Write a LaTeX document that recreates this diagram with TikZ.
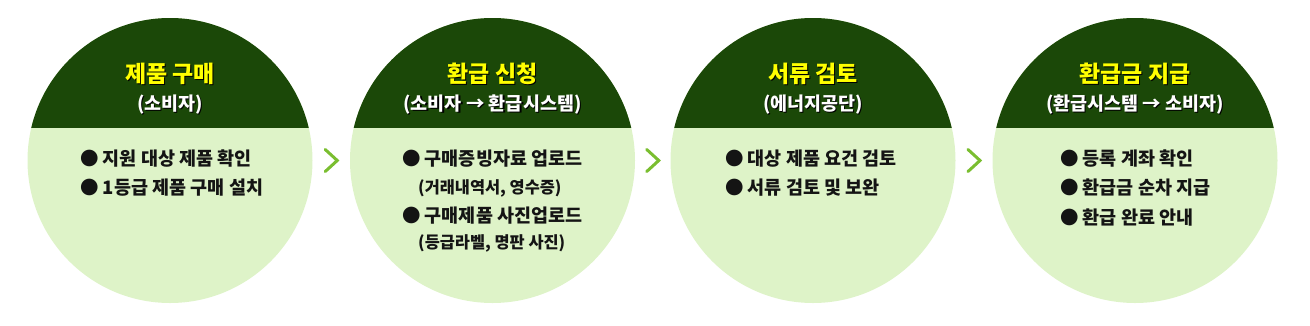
\documentclass[tikz,border=0pt]{standalone}
\usepackage{fontspec}
\setmainfont{Noto Sans CJK KR}
\usetikzlibrary{calc}
\definecolor{capgreen}{RGB}{27,72,8}
\definecolor{bodygreen}{RGB}{222,243,200}
\definecolor{chevgreen}{RGB}{122,190,48}
\definecolor{ttlyellow}{RGB}{255,255,0}
\definecolor{txtdark}{RGB}{20,20,20}
\newcommand\shd[1]{\makebox[0pt][l]{\hspace{1.2pt}\raisebox{-1.2pt}{\textcolor{black}{#1}}}#1}
\tikzset{
  stepcircle/.style={circle, fill=bodygreen, minimum size=285pt, inner sep=0pt,
    path picture={\fill[capgreen] (path picture bounding box.north west) rectangle ([yshift=32.5pt]path picture bounding box.east);}},
  ttl/.style={font=\fontsize{23}{26}\selectfont\bfseries, text=ttlyellow, inner sep=0pt},
  subttl/.style={font=\fontsize{18.5}{21}\selectfont\bfseries, text=white, inner sep=0pt},
  itemtext/.style={anchor=west, font=\fontsize{18.5}{21}\selectfont\bfseries, text=txtdark, inner sep=0pt},
  notetext/.style={anchor=west, font=\fontsize{16.4}{19}\selectfont\bfseries, text=txtdark, inner sep=0pt},
  chev/.style={draw=chevgreen, line width=3pt, line cap=round, line join=miter}
}
\begin{document}
\begin{tikzpicture}[x=1pt,y=-1pt]
\useasboundingbox (0,0) rectangle (1310,325);
% circles
\node[stepcircle] (c1) at (170,160.5) {};
\node[stepcircle] (c2) at (492.5,160.5) {};
\node[stepcircle] (c3) at (813,160.5) {};
\node[stepcircle] (c4) at (1135,160.5) {};
% chevrons
\foreach \a/\b/\n in {c1/c2/m1, c2/c3/m2, c3/c4/m3}{
  \coordinate (\n) at ($(\a.east)!0.5!(\b.west)$);
  \draw[chev] ($(\n)+(-6,-11)$) -- ($(\n)+(6,0)$) -- ($(\n)+(-6,11)$);
}
% step 1
\node[ttl] (t1) at (170,74) {\shd{제품 구매}};
\node[subttl] (s1) at (170,105) {\shd{(소비자)}};
\node[itemtext] (i11) at (80,159) {● 지원 대상 제품 확인};
\node[itemtext] (i12) at (80,188) {● 1등급 제품 구매 설치};
% step 2
\node[ttl] (t2) at (492.5,74) {\shd{환급 신청}};
\node[subttl] (s2) at (492.5,105) {\shd{(소비자 → 환급시스템)}};
\node[itemtext] (i21) at (402,159) {● 구매증빙자료 업로드};
\node[notetext] (n21) at (418,188) {(거래내역서, 영수증)};
\node[itemtext] (i22) at (402,216) {● 구매제품 사진업로드};
\node[notetext] (n22) at (418,243) {(등급라벨, 명판 사진)};
% step 3
\node[ttl] (t3) at (813,74) {\shd{서류 검토}};
\node[subttl] (s3) at (813,105) {\shd{(에너지공단)}};
\node[itemtext] (i31) at (725,159) {● 대상 제품 요건 검토};
\node[itemtext] (i32) at (725,188) {● 서류 검토 및 보완};
% step 4
\node[ttl] (t4) at (1135,74) {\shd{환급금 지급}};
\node[subttl] (s4) at (1135,105) {\shd{(환급시스템 → 소비자)}};
\node[itemtext] (i41) at (1060,159) {● 등록 계좌 확인};
\node[itemtext] (i42) at (1060,188) {● 환급금 순차 지급};
\node[itemtext] (i43) at (1060,218) {● 환급 완료 안내};
\end{tikzpicture}
\end{document}
